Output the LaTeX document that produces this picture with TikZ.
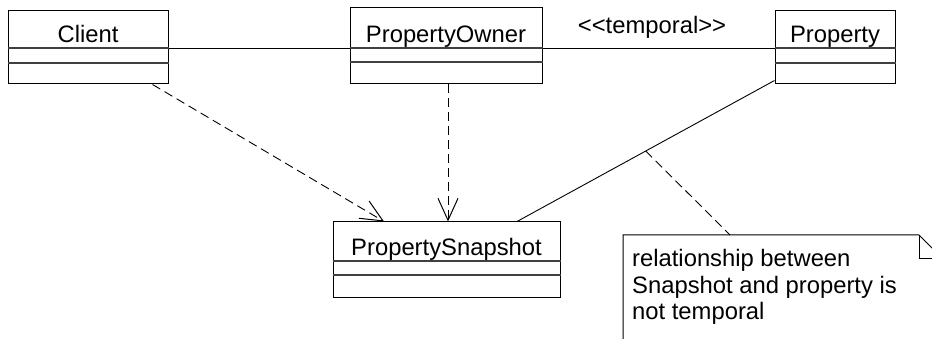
\documentclass[tikz,border=0pt]{standalone}
\usepackage{fontspec}
\setmainfont{Liberation Sans}
\usetikzlibrary{arrows.meta,calc}

\tikzset{
  umlclass/.style={draw, line width=1pt, rectangle, inner sep=0pt},
  comp/.style={line width=1.1pt, draw=black!75},
  assoc/.style={line width=0.9pt},
  dep/.style={line width=0.9pt, dash pattern=on 9pt off 5pt,
    -{Straight Barb[length=22pt,width=20pt,line width=1pt]}},
  notelink/.style={line width=0.9pt, dash pattern=on 9pt off 5pt},
  lbl/.style={inner sep=0pt, anchor=base, font=\fontsize{23.8}{26}\selectfont},
}

\begin{document}
\begin{tikzpicture}[x=1pt,y=-1pt]
\useasboundingbox (0,0) rectangle (932,339);
\clip (0,0) rectangle (932,339);
\fill[white] (0,0) rectangle (932,339);

% classes
\node[umlclass, minimum width=160pt, minimum height=73pt] (client) at (88,47.5) {};
\node[umlclass, minimum width=192pt, minimum height=76pt] (owner) at (446,46) {};
\node[umlclass, minimum width=120pt, minimum height=73pt] (prop) at (835,47.5) {};
\node[umlclass, minimum width=227pt, minimum height=75pt] (snap) at (446.5,259.5) {};

% class names
\node[lbl] (clientname) at (88,43) {Client};
\node[lbl] (ownername) at (446,43) {PropertyOwner};
\node[lbl] (propname) at (835,43) {Property};
\node[lbl] (snapname) at (446.5,255) {PropertySnapshot};

% compartments
\draw[comp] (client.west |- 0,48) -- (client.east |- 0,48);
\draw[comp] (client.west |- 0,63) -- (client.east |- 0,63);
\draw[comp] (owner.west |- 0,48) -- (owner.east |- 0,48);
\draw[comp] (owner.west |- 0,62) -- (owner.east |- 0,62);
\draw[comp] (prop.west |- 0,48) -- (prop.east |- 0,48);
\draw[comp] (prop.west |- 0,63) -- (prop.east |- 0,63);
\draw[comp] (snap.west |- 0,261) -- (snap.east |- 0,261);
\draw[comp] (snap.west |- 0,275) -- (snap.east |- 0,275);

% associations
\draw[assoc] (client.east |- 0,48) -- (owner.west |- 0,48);
\draw[assoc] (owner.east |- 0,48) -- (prop.west |- 0,48);
\node[lbl] (stereo) at (652,34) {{<}{<}temporal{>}{>}};

% dependencies
\draw[dep] ([xshift=-16pt]client.south east) -- ([xshift=-62.5pt]snap.north);
\draw[dep] ([xshift=2pt]owner.south) -- ([xshift=2pt]owner.south |- snap.north);

% association between Property and PropertySnapshot
\draw[assoc] ([yshift=4pt]prop.south west) -- ([xshift=70.5pt]snap.north)
  coordinate[pos=0.5] (mid);

% note
\coordinate (notetop) at (730,235);
\draw[line width=1pt, fill=white] (623,345) -- (623,235) -- (919,235) -- (943,259) -- (943,345);
\draw[line width=1pt] (919,235) -- (919,259) -- (943,259);
\node[inner sep=0pt, anchor=base west, align=left,
  font=\fontsize{23.8}{26}\selectfont] (note) at (632,319)
  {relationship between\\Snapshot and property is\\not temporal};
\draw[notelink] (mid) -- (notetop);
\end{tikzpicture}
\end{document}
